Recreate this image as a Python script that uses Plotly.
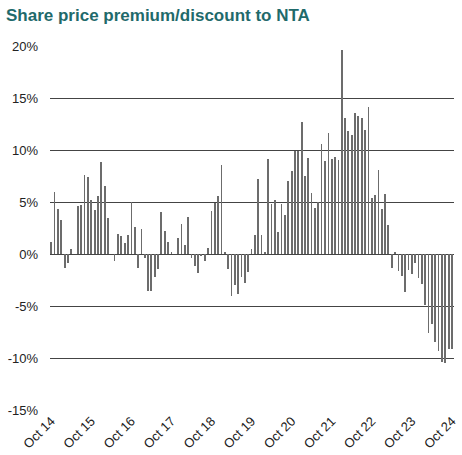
import plotly.graph_objects as go
import pandas as pd

# Share price premium/discount to NTA, monthly Oct 2014 - Oct 2024 (%)
months = pd.date_range("2014-10-01", "2024-10-01", freq="MS")
premium = [
    1.2, 6.0, 4.3, 3.3, -1.3, -0.9, 0.45, 0, 4.6, 4.7, 7.6, 7.4,
    5.2, 4.2, 5.6, 8.8, 6.5, 3.5, 0, -0.7, 1.9, 1.7, 1.1, 1.8,
    5.0, 2.6, -1.3, 2.4, -0.35, -3.6, -3.6, -2.2, -1.4, 4.0, 2.2, 1.2,
    0.1, 0, 1.5, 2.9, 0.9, 3.6, -0.35, -1.15, -1.8, -0.2, -0.7, 0.55,
    4.1, 4.9, 5.6, 8.6, 0.1, -1.45, -4.0, -3.0, -3.8, -2.2, -2.8, -1.7,
    0.45, 1.8, 7.2, 1.8, 0.2, 9.1, 4.8, 5.2, 2.1, 4.8, 3.75, 7.0,
    8.0, 9.9, 9.9, 12.7, 7.5, 9.2, 5.9, 4.4, 5.0, 10.6, 8.9, 11.6,
    9.1, 9.3, 9.0, 19.6, 13.1, 11.8, 11.4, 13.6, 13.3, 13.1, 11.9, 14.1,
    5.4, 5.7, 8.1, 4.3, 5.8, 2.8, -1.3, 0.15, -1.6, -2.1, -3.7, -1.5,
    -1.9, -0.9, -2.3, -2.9, -4.95, -7.6, -6.7, -8.5, -9.3, -10.4, -10.5, -9.1,
    -9.1,
]
x_tick_dates = pd.date_range("2014-10-01", "2024-10-01", freq="12MS")
x_tick_labels = ["Oct 14", "Oct 15", "Oct 16", "Oct 17", "Oct 18", "Oct 19",
                 "Oct 20", "Oct 21", "Oct 22", "Oct 23", "Oct 24"]
y_ticks = [-15, -10, -5, 0, 5, 10, 15, 20]
y_labels = [f"{v}%" for v in y_ticks]

fig = go.Figure(go.Bar(
    x=months, y=premium,
    width=1000 * 3600 * 24 * 7,
    marker=dict(color="#6c6c6c", line=dict(width=0)),
))

fig.update_layout(
    width=462, height=455,
    margin=dict(l=50, r=3, t=46, b=45),
    paper_bgcolor="white", plot_bgcolor="white",
    font=dict(family="Liberation Sans, Arial", size=12.5, color="#222222"),
    title=dict(text="<b>Share price premium/discount to NTA</b>",
               x=0.013, xanchor="left", y=0.968, yanchor="middle",
               font=dict(size=17, color="#1f6a6b")),
    showlegend=False,
    bargap=0,
)
fig.update_yaxes(range=[-15, 20], tickvals=y_ticks, ticktext=y_labels,
                 showgrid=True, gridcolor="#444444", gridwidth=1.3,
                 zeroline=True, zerolinecolor="#444444", zerolinewidth=1.3,
                 ticks="", ticklabelstandoff=11, tickfont=dict(size=13))
fig.update_xaxes(type="date", tickvals=x_tick_dates, ticktext=x_tick_labels,
                 tickangle=-45, showgrid=False, ticks="",
                 ticklabeloverflow="allow", tickfont=dict(size=13),
                 range=["2014-09-20", "2024-10-20"])

# page body has a default 8px margin; drop it so the chart sits at 0,0
fig.write_html("out.html", config={"displayModeBar": False},
               post_script="document.body.style.margin='0';")
